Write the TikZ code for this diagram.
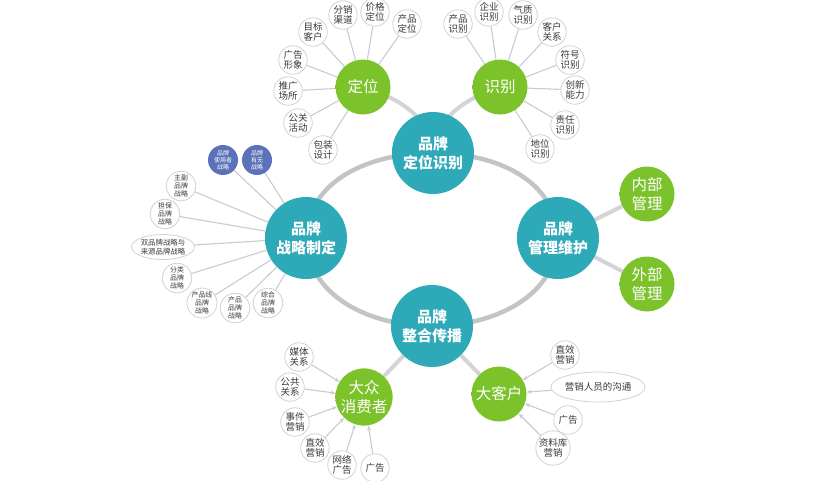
\documentclass[tikz,border=0pt]{standalone}
\usepackage{fontspec}
\setmainfont{Noto Sans CJK SC}
\usetikzlibrary{arrows.meta,shapes.geometric}
\definecolor{tealin}{HTML}{2DA9B8}
\definecolor{tealout}{HTML}{13818E}
\definecolor{greenin}{HTML}{7BC22B}
\definecolor{greenout}{HTML}{4E9311}
\definecolor{leafin}{HTML}{FFFFFF}
\definecolor{leafout}{HTML}{E2E8EE}
\definecolor{leafedge}{HTML}{C9D3DD}
\definecolor{bluein}{HTML}{5B71B9}
\definecolor{blueout}{HTML}{3A4E95}
\definecolor{ringgray}{HTML}{C2C4C6}
\definecolor{linkgray}{HTML}{D2D4D6}
\definecolor{leafline}{HTML}{C6CCD3}
\definecolor{leaftext}{HTML}{3A3A3A}
\pgfdeclareradialshading{tealball}{\pgfpoint{0bp}{0bp}}{color(0bp)=(tealin); color(30bp)=(tealin); color(50bp)=(tealout)}
\pgfdeclareradialshading{greenball}{\pgfpoint{0bp}{0bp}}{color(0bp)=(greenin); color(30bp)=(greenin); color(50bp)=(greenout)}
\pgfdeclareradialshading{leafball}{\pgfpoint{0bp}{0bp}}{color(0bp)=(leafin); color(25bp)=(leafin); color(50bp)=(leafout)}
\pgfdeclareradialshading{blueball}{\pgfpoint{0bp}{0bp}}{color(0bp)=(bluein); color(30bp)=(bluein); color(50bp)=(blueout)}
\pgfdeclarelayer{bg}
\pgfsetlayers{bg,main}
\begin{document}
\begin{tikzpicture}[x=1pt,y=-1pt,
  bigball/.style={circle,shading=tealball,minimum size=82pt,inner sep=0pt,align=center,text=white,font=\fontsize{15}{19}\selectfont\bfseries},
  greenball/.style={circle,shading=greenball,minimum size=55pt,inner sep=0pt,align=center,text=white,font=\fontsize{15.5}{19}\selectfont},
  leaf/.style={circle,shading=leafball,draw=leafedge,line width=0.8pt,minimum size=28.5pt,inner sep=0pt,align=center,text=leaftext,font=\fontsize{9.5}{10.5}\selectfont},
  smallleaf/.style={leaf,minimum size=29.5pt,font=\fontsize{6.9}{7.7}\selectfont},
  blueleaf/.style={circle,shading=blueball,minimum size=30pt,inner sep=0pt,align=center,text=white,font=\fontsize{6}{6.8}\selectfont},
  ovalleaf/.style={ellipse,shading=leafball,draw=leafedge,line width=0.8pt,inner sep=0pt,align=center,text=leaftext},
  ring/.style={draw=ringgray,line width=4.5pt},
  thicklink/.style={draw=linkgray,line width=4pt},
  leaflink/.style={draw=leafline,line width=1.1pt},
  leafarrow/.style={draw=leafline,line width=1.1pt,-{Stealth[length=5pt,width=4pt]}}
]
\useasboundingbox (0,0) rectangle (840,480);
% main circles
\node[bigball] (pd) at (433,153) {品牌\\定位识别};
\node[bigball] (zl) at (306,238) {品牌\\战略制定};
\node[bigball] (gl) at (558,238) {品牌\\管理维护};
\node[bigball] (zh) at (432,326) {品牌\\整合传播};
% green circles
\node[greenball] (dw) at (363,87) {定位};
\node[greenball] (sb) at (500,87) {识别};
\node[greenball] (nb) at (647,194) {内部\\管理};
\node[greenball] (wb) at (647,284) {外部\\管理};
\node[greenball] (dz) at (364,397) {大众\\消费者};
\node[greenball] (dk) at (499,394) {大客户};
% leaves of 定位
\node[leaf] (d1) at (407,24) {产品\\定位};
\node[leaf] (d2) at (375,12) {价格\\定位};
\node[leaf] (d3) at (343,15) {分销\\渠道};
\node[leaf] (d4) at (313,32) {目标\\客户};
\node[leaf] (d5) at (293,60) {广告\\形象};
\node[leaf] (d6) at (288,91) {推广\\场所};
\node[leaf] (d7) at (298,123) {公关\\活动};
\node[leaf] (d8) at (323,150) {包装\\设计};
% leaves of 识别
\node[leaf] (s1) at (458,24) {产品\\识别};
\node[leaf] (s2) at (489,12) {企业\\识别};
\node[leaf] (s3) at (523,15) {气质\\识别};
\node[leaf] (s4) at (552,32) {客户\\关系};
\node[leaf] (s5) at (570,60) {符号\\识别};
\node[leaf] (s6) at (575,90) {创新\\能力};
\node[leaf] (s7) at (565,125) {责任\\识别};
\node[leaf] (s8) at (540,149) {地位\\识别};
% leaves of 战略制定
\node[blueleaf] (z1) at (223,160) {品牌\\使用者\\战略};
\node[blueleaf] (z2) at (257,160) {品牌\\有无\\战略};
\node[smallleaf] (z3) at (181,186) {主副\\品牌\\战略};
\node[smallleaf] (z4) at (165,214) {担保\\品牌\\战略};
\node[ovalleaf,minimum width=63pt,minimum height=25pt,font=\fontsize{7.4}{9}\selectfont] (z5) at (163,247) {双品牌战略与\\来源品牌战略};
\node[smallleaf] (z6) at (177,278) {分类\\品牌\\战略};
\node[smallleaf] (z7) at (202,303) {产品线\\品牌\\战略};
\node[smallleaf] (z8) at (235,308) {产品\\品牌\\战略};
\node[smallleaf] (z9) at (268,303) {综合\\品牌\\战略};
% leaves of 大众消费者
\node[leaf] (m1) at (299,357) {媒体\\关系};
\node[leaf] (m2) at (290,387) {公共\\关系};
\node[leaf] (m3) at (295,422) {事件\\营销};
\node[leaf] (m4) at (315,448) {直效\\营销};
\node[leaf] (m5) at (342,465) {网络\\广告};
\node[leaf] (m6) at (375,468) {广告};
% leaves of 大客户
\node[leaf] (k1) at (565,355) {直效\\营销};
\node[ovalleaf,minimum width=74pt,minimum height=30pt,font=\fontsize{9.5}{11}\selectfont] (k2) at (598,387) {营销人员的沟通};
\node[leaf] (k3) at (568,420) {广告};
\node[leaf] (k4) at (553,448) {资料库\\营销};
\begin{pgfonlayer}{bg}
% ring
\draw[ring] (zl.center) .. controls (308,180) and (370,153) .. (pd.center);
\draw[ring] (pd.center) .. controls (496,153) and (556,180) .. (gl.center);
\draw[ring] (gl.center) .. controls (556,296) and (495,326) .. (zh.center);
\draw[ring] (zh.center) .. controls (369,326) and (308,296) .. (zl.center);
% thick links
\draw[thicklink] (dw.center) .. controls (405,100) and (430,120) .. (pd.center);
\draw[thicklink] (sb.center) .. controls (461,100) and (436,120) .. (pd.center);
\draw[thicklink] (gl) -- (nb);
\draw[thicklink] (gl) -- (wb);
\draw[thicklink] (zh) -- (dz);
\draw[thicklink] (zh) -- (dk);
% leaf links
\foreach \n in {d1,d2,d3,d4,d5,d6,d7,d8} \draw[leaflink] (\n) -- (dw);
\foreach \n in {s1,s2,s3,s4,s5,s6,s7,s8} \draw[leaflink] (\n) -- (sb);
\foreach \n in {z1,z2,z3,z4,z5,z6,z7,z8,z9} \draw[leaflink] (\n) -- (zl);
\foreach \n in {m1,m2,m3,m4,m5,m6} \draw[leafarrow] (\n) -- (dz);
\foreach \n in {k1,k2,k3,k4} \draw[leafarrow] (\n) -- (dk);
\end{pgfonlayer}
\end{tikzpicture}
\end{document}
